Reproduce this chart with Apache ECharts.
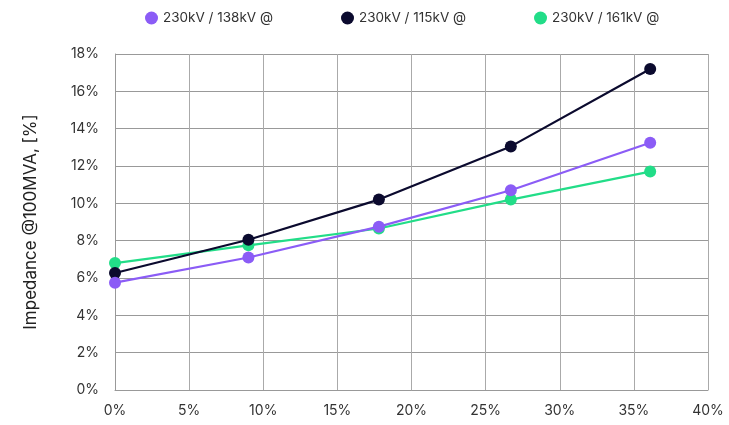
<!DOCTYPE html>
<html><head><meta charset="utf-8">
<script src="https://cdn.jsdelivr.net/npm/echarts@6/dist/echarts.min.js"></script>
<style>html,body{margin:0;background:#fff}#c{width:729px;height:425px}</style>
</head><body><div id="c"></div>
<script>
const xValues = [0, 9, 17.8, 26.7, 36.1];
const names = ['230kV / 138kV @', '230kV / 115kV @', '230kV / 161kV @'];
const s138 = [5.75, 7.1, 8.75, 10.7, 13.25];
const s115 = [6.27, 8.05, 10.2, 13.05, 17.2];
const s161 = [6.8, 7.75, 8.65, 10.2, 11.7];
const colors = ['#8b5cf6', '#0b0a2e', '#22dd88'];
const font = 'Inter, Roboto, sans-serif';
const mk = (name, vals, i) => ({
  name, type: 'line', data: xValues.map((x, j) => [x, vals[j]]),
  symbol: 'circle', symbolSize: 12, lineStyle: {width: 2.2, color: colors[i]},
  itemStyle: {color: colors[i]}, z: 3 - i
});
const chart = echarts.init(document.getElementById('c'));
chart.setOption({
  animation: false,
  textStyle: {fontFamily: font},
  legend: {top: 6, left: 140, itemGap: 68, icon: 'circle', itemWidth: 13, itemHeight: 13,
    textStyle: {fontSize: 13.5, color: '#333', fontFamily: font}, data: names},
  grid: {left: 115, right: 21, top: 54, bottom: 35},
  xAxis: {type: 'value', min: 0, max: 40, interval: 5,
    axisLabel: {formatter: '{value}%', fontSize: 14, color: '#333', margin: 14},
    axisLine: {show: true, lineStyle: {color: '#999'}}, axisTick: {show: false},
    splitLine: {lineStyle: {color: '#aaa'}}},
  yAxis: {type: 'value', min: 0, max: 18, interval: 2,
    name: 'Impedance @100MVA, [%]', nameLocation: 'middle', nameGap: 76, nameRotate: 90,
    nameTextStyle: {fontSize: 17, color: '#222'},
    axisLabel: {formatter: '{value}%', fontSize: 14, color: '#333', margin: 16},
    axisLine: {show: true, lineStyle: {color: '#999'}}, axisTick: {show: false},
    splitLine: {lineStyle: {color: '#999'}}},
  series: [mk(names[0], s138, 0), mk(names[1], s115, 1), mk(names[2], s161, 2)]
});
</script></body></html>
